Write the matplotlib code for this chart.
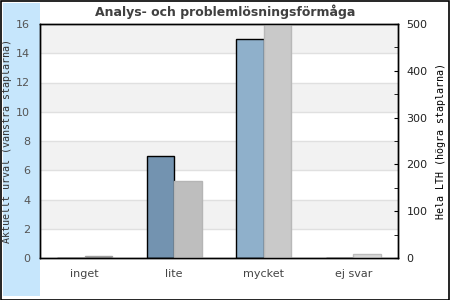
import numpy as np
import matplotlib
matplotlib.use("Agg")
import matplotlib.pyplot as plt
from matplotlib.patches import Rectangle
from matplotlib.ticker import MultipleLocator

categories = ["inget", "lite", "mycket", "ej svar"]
urval = [0, 7, 15, 0]          # left axis, current selection
hela_lth = [5, 165, 500, 9]    # right axis, whole LTH

blue_cols = ["#5f7f9c", "#7393b0", "#8fb0cb", "#a9c4da"]
grey_cols = ["#808080", "#bebebe", "#c9c9c9", "#d9d9d9"]
grey_edges = ["#a0a0a0", "#b5b5b5", "#b8b8b8", "#bdbdbd"]

fig = plt.figure(figsize=(4.5, 3), dpi=100)
fig.patches.append(Rectangle((3 / 450, 4 / 300), 37 / 450, 293 / 300,
                             transform=fig.transFigure, facecolor="#c6e6fc",
                             edgecolor="none", zorder=-10))
fig.patches.append(Rectangle((0.5 / 450, 0.5 / 300), 448.5 / 450, 298.5 / 300,
                             transform=fig.transFigure, facecolor="none",
                             edgecolor="black", linewidth=1.2, zorder=-10))

ax = fig.add_axes([40 / 450, 42 / 300, 358 / 450, 234 / 300])
ax2 = ax.twinx()

x = np.arange(len(categories))
w = 0.305

# background bands and grid
for i, y0 in enumerate(range(0, 16, 2)):
    if i % 2 == 1:
        ax.axhspan(y0, y0 + 2, color="#f2f2f2", zorder=0, lw=0)
for y0 in range(2, 16, 2):
    ax.axhline(y0, color="#e0e0e0", lw=1, zorder=0.5)

ax.bar(x - w / 2, urval, w, color=blue_cols, edgecolor="black", linewidth=1, zorder=2)
ax2.bar(x + w / 2, hela_lth, w, color=grey_cols, edgecolor=grey_edges, linewidth=1, zorder=2)

ax.set_xlim(-0.5, 3.5)
ax.set_ylim(0, 16)
ax2.set_ylim(0, 500)
ax.set_yticks(range(0, 17, 2))
ax.set_xticks(x)
ax.set_xticklabels(categories)
ax.tick_params(axis="y", length=0, pad=7, labelsize=8, labelcolor="#555555")
ax.tick_params(axis="x", length=0, pad=8, labelsize=8, labelcolor="#444444")

ax2.yaxis.set_major_locator(MultipleLocator(100))
ax2.yaxis.set_minor_locator(MultipleLocator(50))
ax2.tick_params(axis="y", which="both", direction="in", length=3, pad=6,
                labelsize=8, labelcolor="#222222")

for a in (ax, ax2):
    for s in a.spines.values():
        s.set_color("black")
        s.set_linewidth(1)

ax.set_ylabel("Aktuellt urval (vänstra staplarna)", family="DejaVu Sans Mono",
              fontsize=7.2, color="#333333")
ax.yaxis.set_label_coords(-28 / 358, 0.5)
ax2.set_ylabel("Hela LTH (högra staplarna)", family="DejaVu Sans Mono",
               fontsize=7.2, color="black")
ax2.yaxis.set_label_coords(1 + 38 / 358, 0.5)

fig.text(0.5, 1 - 12 / 300, "Analys- och problemlösningsförmåga", ha="center",
         va="center", fontsize=9, fontweight="bold", color="#404040")

fig.savefig("out.png", dpi=100)
